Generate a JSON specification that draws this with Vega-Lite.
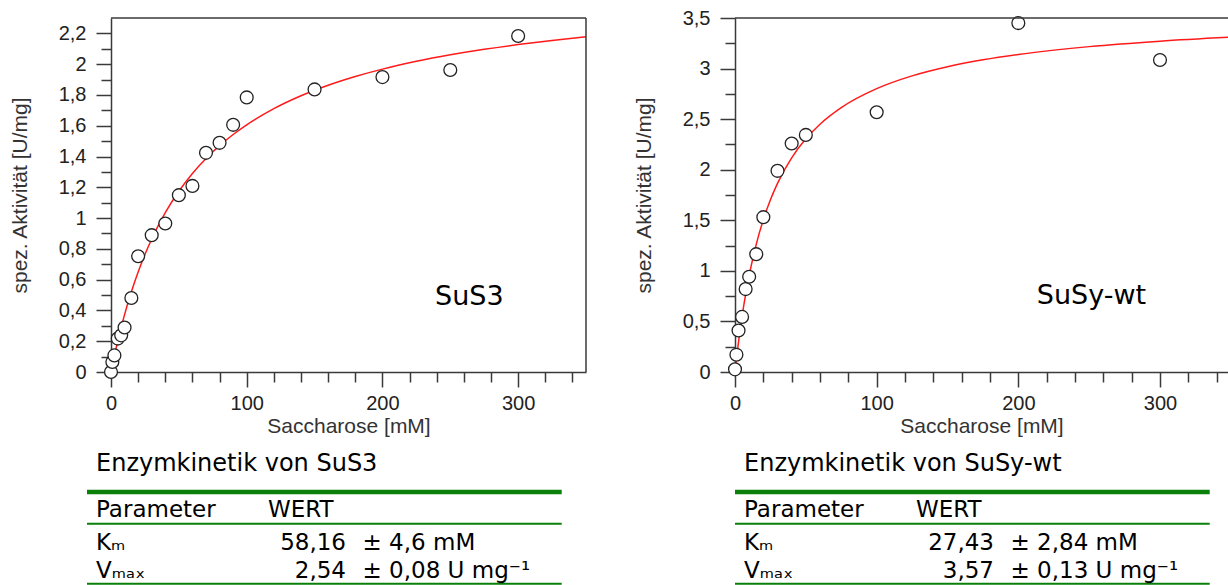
{
  "$schema": "https://vega.github.io/schema/vega-lite/v6.json",
  "padding": {"left": 9, "top": 8, "right": 0, "bottom": 0},
  "autosize": {"type": "pad"},
  "background": "white",
  "bounds": "flush",
  "align": "all",
  "columns": 2,
  "spacing": {"row": 88, "column": 131},
  "datasets": {
    "SuS3": [
      {"saccharose": 0, "aktivitaet": 0},
      {"saccharose": 1, "aktivitaet": 0.065},
      {"saccharose": 2.5, "aktivitaet": 0.108},
      {"saccharose": 5, "aktivitaet": 0.217},
      {"saccharose": 7.5, "aktivitaet": 0.238},
      {"saccharose": 10, "aktivitaet": 0.289},
      {"saccharose": 15, "aktivitaet": 0.481},
      {"saccharose": 20, "aktivitaet": 0.752},
      {"saccharose": 30, "aktivitaet": 0.889},
      {"saccharose": 40, "aktivitaet": 0.965},
      {"saccharose": 50, "aktivitaet": 1.149},
      {"saccharose": 60, "aktivitaet": 1.209},
      {"saccharose": 70, "aktivitaet": 1.424},
      {"saccharose": 80, "aktivitaet": 1.489},
      {"saccharose": 90, "aktivitaet": 1.606},
      {"saccharose": 100, "aktivitaet": 1.784},
      {"saccharose": 150, "aktivitaet": 1.836},
      {"saccharose": 200, "aktivitaet": 1.916},
      {"saccharose": 250, "aktivitaet": 1.962},
      {"saccharose": 300, "aktivitaet": 2.183}
    ],
    "SuSy": [
      {"saccharose": 0, "aktivitaet": 0.026},
      {"saccharose": 1, "aktivitaet": 0.171},
      {"saccharose": 2.5, "aktivitaet": 0.41},
      {"saccharose": 5, "aktivitaet": 0.545},
      {"saccharose": 7.5, "aktivitaet": 0.82},
      {"saccharose": 10, "aktivitaet": 0.942},
      {"saccharose": 15, "aktivitaet": 1.165},
      {"saccharose": 20, "aktivitaet": 1.531},
      {"saccharose": 30, "aktivitaet": 1.989},
      {"saccharose": 40, "aktivitaet": 2.259},
      {"saccharose": 50, "aktivitaet": 2.344},
      {"saccharose": 100, "aktivitaet": 2.568},
      {"saccharose": 200, "aktivitaet": 3.45},
      {"saccharose": 300, "aktivitaet": 3.085}
    ],
    "fitSuS3": [
      {"saccharose": 0, "aktivitaet": 0},
      {"saccharose": 1, "aktivitaet": 0.0429},
      {"saccharose": 2.5, "aktivitaet": 0.1047},
      {"saccharose": 5, "aktivitaet": 0.2011},
      {"saccharose": 7.5, "aktivitaet": 0.2901},
      {"saccharose": 10, "aktivitaet": 0.3727},
      {"saccharose": 15, "aktivitaet": 0.5208},
      {"saccharose": 20, "aktivitaet": 0.6499},
      {"saccharose": 25, "aktivitaet": 0.7636},
      {"saccharose": 30, "aktivitaet": 0.8643},
      {"saccharose": 40, "aktivitaet": 1.035},
      {"saccharose": 50, "aktivitaet": 1.1742},
      {"saccharose": 60, "aktivitaet": 1.2898},
      {"saccharose": 70, "aktivitaet": 1.3873},
      {"saccharose": 80, "aktivitaet": 1.4708},
      {"saccharose": 90, "aktivitaet": 1.5429},
      {"saccharose": 100, "aktivitaet": 1.606},
      {"saccharose": 120, "aktivitaet": 1.7108},
      {"saccharose": 140, "aktivitaet": 1.7945},
      {"saccharose": 160, "aktivitaet": 1.8629},
      {"saccharose": 180, "aktivitaet": 1.9197},
      {"saccharose": 200, "aktivitaet": 1.9678},
      {"saccharose": 225, "aktivitaet": 2.0183},
      {"saccharose": 250, "aktivitaet": 2.0606},
      {"saccharose": 275, "aktivitaet": 2.0966},
      {"saccharose": 300, "aktivitaet": 2.1275},
      {"saccharose": 325, "aktivitaet": 2.1545},
      {"saccharose": 350, "aktivitaet": 2.1781}
    ],
    "fitSuSy": [
      {"saccharose": 0, "aktivitaet": 0},
      {"saccharose": 1, "aktivitaet": 0.1256},
      {"saccharose": 2.5, "aktivitaet": 0.2982},
      {"saccharose": 5, "aktivitaet": 0.5504},
      {"saccharose": 7.5, "aktivitaet": 0.7665},
      {"saccharose": 10, "aktivitaet": 0.9538},
      {"saccharose": 15, "aktivitaet": 1.2621},
      {"saccharose": 20, "aktivitaet": 1.5054},
      {"saccharose": 25, "aktivitaet": 1.7023},
      {"saccharose": 30, "aktivitaet": 1.8649},
      {"saccharose": 40, "aktivitaet": 2.1177},
      {"saccharose": 50, "aktivitaet": 2.3053},
      {"saccharose": 60, "aktivitaet": 2.45},
      {"saccharose": 75, "aktivitaet": 2.614},
      {"saccharose": 100, "aktivitaet": 2.8015},
      {"saccharose": 125, "aktivitaet": 2.9276},
      {"saccharose": 150, "aktivitaet": 3.0181},
      {"saccharose": 175, "aktivitaet": 3.0863},
      {"saccharose": 200, "aktivitaet": 3.1394},
      {"saccharose": 250, "aktivitaet": 3.217},
      {"saccharose": 300, "aktivitaet": 3.2709},
      {"saccharose": 348, "aktivitaet": 3.3091}
    ],
    "tabSuS3": [
      {"line": 0, "kind": "title", "label": "Enzymkinetik von SuS3"},
      {"line": 2, "kind": "header", "label": "Parameter", "wert": "WERT"},
      {"line": 4, "kind": "param", "label": "Kₘ", "value": "58,16", "error": "± 4,6 mM"},
      {"line": 5, "kind": "param", "label": "Vₘₐₓ", "value": "2,54", "error": "± 0,08 U mg⁻¹"}
    ],
    "tabSuSy": [
      {"line": 0, "kind": "title", "label": "Enzymkinetik von SuSy-wt"},
      {"line": 2, "kind": "header", "label": "Parameter", "wert": "WERT"},
      {"line": 4, "kind": "param", "label": "Kₘ", "value": "27,43", "error": "± 2,84 mM"},
      {"line": 5, "kind": "param", "label": "Vₘₐₓ", "value": "3,57", "error": "± 0,13 U mg⁻¹"}
    ],
    "tableRules": [
      {"line": 1, "kind": "top"},
      {"line": 3, "kind": "header"},
      {"line": 6, "kind": "bottom"}
    ]
  },
  "concat": [
    {
      "width": 475,
      "height": 354,
      "layer": [
        {
          "data": {"name": "fitSuS3"},
          "mark": {"type": "line", "color": "#ff1a1a", "strokeWidth": 1.5, "interpolate": "monotone"},
          "encoding": {
            "x": {"field": "saccharose", "type": "quantitative",
              "scale": {"domain": [0, 350], "nice": false, "zero": false},
              "axis": {"title": "Saccharose [mM]", "labelOverlap": false, "tickCount": 200,
                "values": [0,20,40,60,80,100,120,140,160,180,200,220,240,260,280,300,320,340],
                "labelExpr": "datum.value % 100 === 0 ? datum.label : ''",
                "tickSize": {"condition": {"test": "datum.value % 100 === 0", "value": 15}, "value": 10}}},
            "y": {"field": "aktivitaet", "type": "quantitative",
              "scale": {"domain": [0, 2.3], "nice": false, "zero": false},
              "axis": {"title": "spez. Aktivität [U/mg]", "labelOverlap": false, "tickCount": 200,
                "values": [0,0.1,0.2,0.3,0.4,0.5,0.6,0.7,0.8,0.9,1,1.1,1.2,1.3,1.4,1.5,1.6,1.7,1.8,1.9,2,2.1,2.2],
                "labelExpr": "round(datum.value*10) % 2 === 0 ? replace(format(datum.value, '~g'), '.', ',') : ''",
                "tickSize": {"condition": {"test": "round(datum.value*10) % 2 === 0", "value": 15}, "value": 10}}}
          }
        },
        {
          "data": {"name": "SuS3"},
          "mark": {"type": "point", "shape": "circle", "filled": true, "fill": "white", "stroke": "#222222", "strokeWidth": 1.3, "size": 165, "opacity": 1},
          "encoding": {
            "x": {"field": "saccharose", "type": "quantitative"},
            "y": {"field": "aktivitaet", "type": "quantitative"}
          }
        },
        {
          "data": {"values": [{"frame": "top"}]},
          "mark": {"type": "rule", "color": "#3a3a3a", "strokeWidth": 1.5},
          "encoding": {"y": {"datum": 2.3}}
        },
        {
          "data": {"values": [{"frame": "right"}]},
          "mark": {"type": "rule", "color": "#3a3a3a", "strokeWidth": 1.5},
          "encoding": {"x": {"datum": 350}}
        },
        {
          "data": {"values": [{"enzyme": "SuS3"}]},
          "mark": {"type": "text", "font": "DejaVu Sans", "fontSize": 27, "align": "center", "baseline": "alphabetic", "color": "#000000"},
          "encoding": {"x": {"datum": 264}, "y": {"datum": 0.433}, "text": {"field": "enzyme"}}
        }
      ]
    },
    {
      "width": 493,
      "height": 354,
      "layer": [
        {
          "data": {"name": "fitSuSy"},
          "mark": {"type": "line", "color": "#ff1a1a", "strokeWidth": 1.5, "interpolate": "monotone"},
          "encoding": {
            "x": {"field": "saccharose", "type": "quantitative",
              "scale": {"domain": [0, 348], "nice": false, "zero": false},
              "axis": {"title": "Saccharose [mM]", "labelOverlap": false, "tickCount": 200,
                "values": [0,20,40,60,80,100,120,140,160,180,200,220,240,260,280,300,320,340],
                "labelExpr": "datum.value % 100 === 0 ? datum.label : ''",
                "tickSize": {"condition": {"test": "datum.value % 100 === 0", "value": 15}, "value": 10}}},
            "y": {"field": "aktivitaet", "type": "quantitative",
              "scale": {"domain": [0, 3.5], "nice": false, "zero": false},
              "axis": {"title": "spez. Aktivität [U/mg]", "labelOverlap": false, "tickCount": 200,
                "values": [0,0.25,0.5,0.75,1,1.25,1.5,1.75,2,2.25,2.5,2.75,3,3.25,3.5],
                "labelExpr": "datum.value % 0.5 === 0 ? replace(format(datum.value, '~g'), '.', ',') : ''",
                "tickSize": {"condition": {"test": "datum.value % 0.5 === 0", "value": 15}, "value": 10}}}
          }
        },
        {
          "data": {"name": "SuSy"},
          "mark": {"type": "point", "shape": "circle", "filled": true, "fill": "white", "stroke": "#222222", "strokeWidth": 1.3, "size": 165, "opacity": 1},
          "encoding": {
            "x": {"field": "saccharose", "type": "quantitative"},
            "y": {"field": "aktivitaet", "type": "quantitative"}
          }
        },
        {
          "data": {"values": [{"frame": "top"}]},
          "mark": {"type": "rule", "color": "#3a3a3a", "strokeWidth": 1.5},
          "encoding": {"y": {"datum": 3.5}}
        },
        {
          "data": {"values": [{"enzyme": "SuSy-wt"}]},
          "mark": {"type": "text", "font": "DejaVu Sans", "fontSize": 27, "align": "center", "baseline": "alphabetic", "color": "#000000"},
          "encoding": {"x": {"datum": 251.6}, "y": {"datum": 0.669}, "text": {"field": "enzyme"}}
        }
      ]
    },
    {
      "width": 493,
      "height": 125,
      "data": {"name": "tabSuS3"},
      "layer": [
        {
          "data": {"name": "tableRules"},
          "transform": [{"filter": "datum.kind === 'top'"}],
          "mark": {"type": "rule", "color": "#0a800a", "strokeWidth": 4.3},
          "encoding": {
            "x": {"datum": 0, "type": "quantitative", "axis": null,
              "scale": {"domain": [0,1,2,3,4,5], "range": [-24,-15,157,235,251.5,450.7], "zero": false, "nice": false}},
            "x2": {"datum": 5},
            "y": {"field": "line", "type": "quantitative", "axis": null,
              "scale": {"domain": [0,1,2,3,4,5,6], "range": [11,32,57.3,63.7,90,118.3,123.7], "zero": false, "nice": false}}
          }
        },
        {
          "data": {"name": "tableRules"},
          "transform": [{"filter": "datum.kind !== 'top'"}],
          "mark": {"type": "rule", "color": "#0a800a", "strokeWidth": 2},
          "encoding": {
            "x": {"datum": 0, "type": "quantitative", "axis": null},
            "x2": {"datum": 5},
            "y": {"field": "line", "type": "quantitative", "axis": null}
          }
        },
        {
          "transform": [{"filter": "datum.kind === 'title'"}],
          "mark": {"type": "text", "align": "left", "baseline": "alphabetic", "font": "DejaVu Sans", "fontSize": 24, "color": "#000000"},
          "encoding": {
            "x": {"datum": 1, "type": "quantitative", "axis": null},
            "y": {"field": "line", "type": "quantitative", "axis": null},
            "text": {"field": "label"}
          }
        },
        {
          "transform": [{"filter": "datum.kind !== 'title'"}],
          "mark": {"type": "text", "align": "left", "baseline": "alphabetic", "font": "DejaVu Sans", "fontSize": 23, "color": "#000000"},
          "encoding": {
            "x": {"datum": 1, "type": "quantitative", "axis": null},
            "y": {"field": "line", "type": "quantitative", "axis": null},
            "text": {"field": "label"}
          }
        },
        {
          "transform": [{"filter": "datum.kind === 'header'"}],
          "mark": {"type": "text", "align": "left", "baseline": "alphabetic", "font": "DejaVu Sans", "fontSize": 23, "color": "#000000"},
          "encoding": {
            "x": {"datum": 2, "type": "quantitative", "axis": null},
            "y": {"field": "line", "type": "quantitative", "axis": null},
            "text": {"field": "wert"}
          }
        },
        {
          "transform": [{"filter": "datum.kind === 'param'"}],
          "mark": {"type": "text", "align": "right", "baseline": "alphabetic", "font": "DejaVu Sans", "fontSize": 23, "color": "#000000"},
          "encoding": {
            "x": {"datum": 3, "type": "quantitative", "axis": null},
            "y": {"field": "line", "type": "quantitative", "axis": null},
            "text": {"field": "value"}
          }
        },
        {
          "transform": [{"filter": "datum.kind === 'param'"}],
          "mark": {"type": "text", "align": "left", "baseline": "alphabetic", "font": "DejaVu Sans", "fontSize": 23, "color": "#000000"},
          "encoding": {
            "x": {"datum": 4, "type": "quantitative", "axis": null},
            "y": {"field": "line", "type": "quantitative", "axis": null},
            "text": {"field": "error"}
          }
        }
      ]
    },
    {
      "width": 475,
      "height": 125,
      "data": {"name": "tabSuSy"},
      "layer": [
        {
          "data": {"name": "tableRules"},
          "transform": [{"filter": "datum.kind === 'top'"}],
          "mark": {"type": "rule", "color": "#0a800a", "strokeWidth": 4.3},
          "encoding": {
            "x": {"datum": 0, "type": "quantitative", "axis": null,
              "scale": {"domain": [0,1,2,3,4,5], "range": [0,9,181,259,275.5,474.7], "zero": false, "nice": false}},
            "x2": {"datum": 5},
            "y": {"field": "line", "type": "quantitative", "axis": null,
              "scale": {"domain": [0,1,2,3,4,5,6], "range": [11,32,57.3,63.7,90,118.3,123.7], "zero": false, "nice": false}}
          }
        },
        {
          "data": {"name": "tableRules"},
          "transform": [{"filter": "datum.kind !== 'top'"}],
          "mark": {"type": "rule", "color": "#0a800a", "strokeWidth": 2},
          "encoding": {
            "x": {"datum": 0, "type": "quantitative", "axis": null},
            "x2": {"datum": 5},
            "y": {"field": "line", "type": "quantitative", "axis": null}
          }
        },
        {
          "transform": [{"filter": "datum.kind === 'title'"}],
          "mark": {"type": "text", "align": "left", "baseline": "alphabetic", "font": "DejaVu Sans", "fontSize": 24, "color": "#000000"},
          "encoding": {
            "x": {"datum": 1, "type": "quantitative", "axis": null},
            "y": {"field": "line", "type": "quantitative", "axis": null},
            "text": {"field": "label"}
          }
        },
        {
          "transform": [{"filter": "datum.kind !== 'title'"}],
          "mark": {"type": "text", "align": "left", "baseline": "alphabetic", "font": "DejaVu Sans", "fontSize": 23, "color": "#000000"},
          "encoding": {
            "x": {"datum": 1, "type": "quantitative", "axis": null},
            "y": {"field": "line", "type": "quantitative", "axis": null},
            "text": {"field": "label"}
          }
        },
        {
          "transform": [{"filter": "datum.kind === 'header'"}],
          "mark": {"type": "text", "align": "left", "baseline": "alphabetic", "font": "DejaVu Sans", "fontSize": 23, "color": "#000000"},
          "encoding": {
            "x": {"datum": 2, "type": "quantitative", "axis": null},
            "y": {"field": "line", "type": "quantitative", "axis": null},
            "text": {"field": "wert"}
          }
        },
        {
          "transform": [{"filter": "datum.kind === 'param'"}],
          "mark": {"type": "text", "align": "right", "baseline": "alphabetic", "font": "DejaVu Sans", "fontSize": 23, "color": "#000000"},
          "encoding": {
            "x": {"datum": 3, "type": "quantitative", "axis": null},
            "y": {"field": "line", "type": "quantitative", "axis": null},
            "text": {"field": "value"}
          }
        },
        {
          "transform": [{"filter": "datum.kind === 'param'"}],
          "mark": {"type": "text", "align": "left", "baseline": "alphabetic", "font": "DejaVu Sans", "fontSize": 23, "color": "#000000"},
          "encoding": {
            "x": {"datum": 4, "type": "quantitative", "axis": null},
            "y": {"field": "line", "type": "quantitative", "axis": null},
            "text": {"field": "error"}
          }
        }
      ]
    }
  ],
  "config": {
    "view": {"stroke": null},
    "font": "DejaVu Sans",
    "axis": {
      "labelFont": "Liberation Sans", "labelFontSize": 20, "labelColor": "#222222",
      "titleFont": "Liberation Sans", "titleFontSize": 21, "titleFontWeight": "normal", "titleColor": "#333333",
      "domainColor": "#3a3a3a", "tickColor": "#3a3a3a", "domainWidth": 1.5, "tickWidth": 1.5,
      "grid": false, "labelOverlap": false, "labelFlush": false
    },
    "axisX": {"labelPadding": 6, "titlePadding": 2},
    "axisY": {"labelPadding": 10, "titlePadding": 28}
  }
}
